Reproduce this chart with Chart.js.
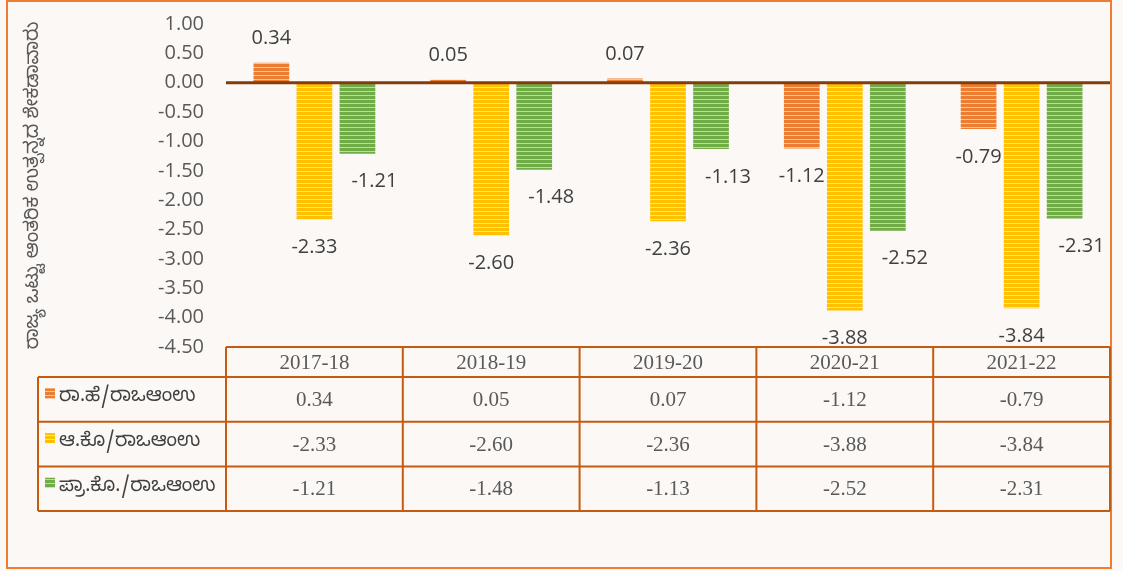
<!DOCTYPE html>
<html>
<head>
<meta charset="utf-8">
<script src="https://cdn.jsdelivr.net/npm/chart.js@4.4.1/dist/chart.umd.min.js"></script>
<style>
    html, body { margin: 0; padding: 0; background: #fcf8f5; }
    #wrap { width: 1123px; height: 571px; }
</style>
</head>
<body>
<div id="wrap"><canvas id="chart" width="1123" height="571"></canvas></div>
<script>
// data
const years = ['2017-18', '2018-19', '2019-20', '2020-21', '2021-22'];
const seriesNames = ['ರಾ.ಹೆ/ರಾಒಆಂಉ', 'ಆ.ಕೊ/ರಾಒಆಂಉ', 'ಪ್ರಾ.ಕೊ./ರಾಒಆಂಉ'];
const revSurplus = [0.34, 0.05, 0.07, -1.12, -0.79];
const fiscalDeficit = [-2.33, -2.60, -2.36, -3.88, -3.84];
const primaryDeficit = [-1.21, -1.48, -1.13, -2.52, -2.31];
const yTitle = 'ರಾಜ್ಯ ಒಟ್ಟು ಆಂತರಿಕ ಉತ್ಪನ್ನದ ಶೇಕಡಾವಾರು';

const colors = ['#ed7d31', '#ffc000', '#70ad47'];
const kanFont = '"Noto Sans Kannada", "Noto Sans", sans-serif';

function stripes(color) {
    const c = document.createElement('canvas');
    c.width = 4; c.height = 4;
    const g = c.getContext('2d');
    g.fillStyle = color;
    g.fillRect(0, 0, 4, 4);
    g.fillStyle = 'rgba(255,255,255,0.55)';
    g.fillRect(0, 3, 4, 1);
    return g.createPattern(c, 'repeat');
}

const backdrop = {
    id: 'backdrop',
    beforeDraw(chart) {
        const ctx = chart.ctx;
        ctx.save();
        ctx.fillStyle = '#fcf8f5';
        ctx.fillRect(0, 0, chart.width, chart.height);
        ctx.strokeStyle = '#ed7d31';
        ctx.lineWidth = 2;
        ctx.strokeRect(7, 1, 1104, 567);
        ctx.restore();
    }
};

const zeroAndLabels = {
    id: 'zeroAndLabels',
    afterDatasetsDraw(chart) {
        const ctx = chart.ctx;
        const area = chart.chartArea;
        const y0 = chart.scales.y.getPixelForValue(0);
        ctx.save();
        ctx.strokeStyle = '#843c0c';
        ctx.lineWidth = 3;
        ctx.beginPath();
        ctx.moveTo(area.left, y0);
        ctx.lineTo(area.right, y0);
        ctx.stroke();

        ctx.font = '20px "Open Sans"';
        ctx.fillStyle = '#404040';
        ctx.textAlign = 'center';
        ctx.textBaseline = 'middle';
        chart.data.datasets.forEach((ds, i) => {
            chart.getDatasetMeta(i).data.forEach((bar, j) => {
                const v = ds.data[j];
                const x = bar.x + (i === 2 ? 17 : 0);
                const y = v >= 0 ? bar.y - 24 : bar.y + 28;
                ctx.fillText(v.toFixed(2), x, y);
            });
        });
        ctx.restore();
    }
};

const dataTable = {
    id: 'dataTable',
    afterDraw(chart) {
        const ctx = chart.ctx;
        const area = chart.chartArea;
        const left = 38;
        const top = area.bottom;
        const headH = 30;
        const rowH = 44.7;
        const colW = (area.right - area.left) / years.length;
        const bottom = top + headH + rowH * 3;

        ctx.save();
        ctx.strokeStyle = '#c55a11';
        ctx.lineWidth = 2;
        ctx.beginPath();
        // header row
        ctx.moveTo(area.left, top);
        ctx.lineTo(area.right, top);
        for (let r = 0; r <= 3; r++) {
            const y = top + headH + rowH * r;
            ctx.moveTo(left, y);
            ctx.lineTo(area.right, y);
        }
        ctx.moveTo(left, top + headH);
        ctx.lineTo(left, bottom);
        for (let c = 0; c <= years.length; c++) {
            const x = area.left + colW * c;
            ctx.moveTo(x, top);
            ctx.lineTo(x, bottom);
        }
        ctx.stroke();

        ctx.textAlign = 'center';
        ctx.textBaseline = 'middle';
        ctx.fillStyle = '#595959';
        ctx.font = '21px "Liberation Serif"';
        years.forEach((yr, c) => {
            ctx.fillText(yr, area.left + colW * (c + 0.5), top + headH / 2 + 1);
        });

        chart.data.datasets.forEach((ds, r) => {
            const cy = top + headH + rowH * (r + 0.5);
            ctx.fillStyle = '#595959';
            ctx.textAlign = 'center';
            ctx.font = '21px "Liberation Serif"';
            ds.data.forEach((v, c) => {
                ctx.fillText(v.toFixed(2), area.left + colW * (c + 0.5), cy + 1);
            });
            ctx.fillStyle = ds.backgroundColor;
            ctx.fillRect(45, cy - 11, 10, 10);
            ctx.fillStyle = '#404040';
            ctx.textAlign = 'left';
            ctx.font = '19px ' + kanFont;
            ctx.fillText(ds.label, 59, cy);
        });
        ctx.restore();
    }
};

new Chart(document.getElementById('chart'), {
    type: 'bar',
    data: {
        labels: years,
        datasets: [
            { label: seriesNames[0], data: revSurplus, backgroundColor: stripes(colors[0]) },
            { label: seriesNames[1], data: fiscalDeficit, backgroundColor: stripes(colors[1]) },
            { label: seriesNames[2], data: primaryDeficit, backgroundColor: stripes(colors[2]) }
        ]
    },
    options: {
        responsive: false,
        animation: false,
        categoryPercentage: 0.73,
        barPercentage: 0.83,
        layout: { padding: { left: 0, top: 24, right: 13, bottom: 224 } },
        plugins: {
            legend: { display: false },
            tooltip: { enabled: false }
        },
        scales: {
            x: { display: false },
            y: {
                min: -4.5,
                max: 1,
                afterFit(scale) {
                    scale.width = 226;
                    scale.paddingTop = 0;
                    scale.paddingBottom = 0;
                },
                grid: { display: false, drawTicks: false },
                border: { display: false },
                ticks: {
                    stepSize: 0.5,
                    padding: 22,
                    color: '#595959',
                    font: { family: 'Open Sans', size: 20 },
                    callback: v => v.toFixed(2)
                },
                title: {
                    display: true,
                    text: yTitle,
                    color: '#595959',
                    font: { family: kanFont, size: 19 },
                    padding: { top: 25, bottom: 0 }
                }
            }
        }
    },
    plugins: [backdrop, zeroAndLabels, dataTable]
});
</script>
</body>
</html>
